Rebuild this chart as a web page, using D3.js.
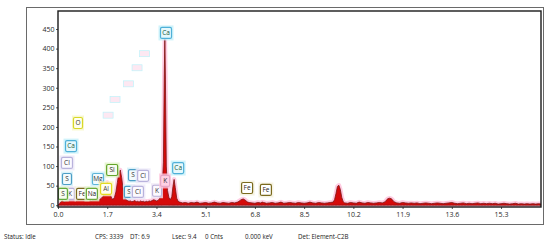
<!DOCTYPE html>
<html>
<head>
  <meta charset="utf-8">
  <style>
    body { margin: 0; background: #fff; }
    text { font-family: "Open Sans", "Liberation Sans", sans-serif; }
  </style>
  <title>EDS spectrum</title>
</head>
<body>
<script src="https://cdn.jsdelivr.net/npm/d3@7"></script>
<script>
// spectrum as [keV, counts]
var spectrum = [
  [0.00,0],[0.05,4],[0.10,9],[0.15,12],[0.20,8],[0.25,10],[0.30,14],[0.35,11],[0.40,13],[0.45,16],
  [0.50,19],[0.55,17],[0.60,13],[0.65,11],[0.70,14],[0.75,12],[0.80,15],[0.85,13],[0.90,11],[0.95,14],
  [1.00,12],[1.05,15],[1.10,13],[1.15,11],[1.20,14],[1.25,12],[1.30,16],[1.35,14],[1.40,12],[1.45,15],
  [1.50,18],[1.55,22],[1.60,30],[1.65,44],[1.70,58],[1.75,50],[1.80,30],[1.85,18],[1.90,15],[1.95,20],
  [2.00,34],[2.05,58],[2.10,82],[2.15,90],[2.20,70],[2.25,40],[2.30,22],[2.35,14],[2.40,12],[2.45,10],
  [2.50,11],[2.55,9],[2.60,10],[2.65,12],[2.70,9],[2.75,10],[2.80,8],[2.85,11],[2.90,9],[2.95,10],
  [3.00,8],[3.05,10],[3.10,9],[3.15,11],[3.20,10],[3.25,12],[3.30,14],[3.35,13],[3.40,11],[3.45,12],
  [3.50,16],[3.55,24],[3.60,45],[3.64,110],[3.67,330],[3.69,425],[3.71,320],[3.74,100],[3.78,38],[3.83,20],
  [3.88,14],[3.93,22],[3.97,48],[4.01,66],[4.05,45],[4.10,18],[4.15,10],[4.2,8],[4.3,6],[4.4,7],
  [4.5,5],[4.6,7],[4.7,6],[4.8,8],[4.9,5],[5.0,6],[5.1,7],[5.2,5],[5.3,6],[5.4,8],
  [5.5,6],[5.6,5],[5.7,7],[5.8,6],[5.9,5],[6.0,7],[6.1,6],[6.2,8],[6.25,10],[6.3,13],
  [6.35,15],[6.4,16],[6.45,14],[6.5,11],[6.55,8],[6.6,7],[6.7,6],[6.8,5],[6.9,7],[7.0,6],
  [7.05,8],[7.1,7],[7.2,5],[7.3,6],[7.4,7],[7.5,5],[7.6,6],[7.7,8],[7.8,5],[7.9,6],
  [8.0,7],[8.1,6],[8.2,5],[8.3,7],[8.4,6],[8.5,5],[8.6,6],[8.7,8],[8.8,6],[8.9,5],
  [9.0,7],[9.1,6],[9.2,5],[9.3,6],[9.4,7],[9.5,8],[9.55,14],[9.6,30],[9.65,48],[9.7,51],
  [9.75,40],[9.8,20],[9.85,9],[9.9,6],[10.0,5],[10.1,7],[10.2,6],[10.3,5],[10.4,8],[10.5,6],
  [10.6,5],[10.7,7],[10.8,6],[10.9,5],[11.0,6],[11.1,7],[11.2,6],[11.3,9],[11.35,14],[11.4,17],
  [11.45,18],[11.5,17],[11.55,14],[11.6,9],[11.7,6],[11.8,5],[11.9,7],[12.0,6],[12.1,5],[12.2,6],
  [12.3,5],[12.4,6],[12.5,4],[12.6,5],[12.7,6],[12.8,5],[12.9,4],[13.0,5],[13.1,6],[13.2,5],
  [13.3,4],[13.4,5],[13.5,6],[13.6,7],[13.7,5],[13.8,4],[13.9,5],[14.0,6],[14.1,4],[14.2,5],
  [14.3,4],[14.4,5],[14.5,6],[14.6,4],[14.7,5],[14.8,4],[14.9,5],[15.0,4],[15.1,5],[15.2,3],
  [15.3,4],[15.4,5],[15.5,4],[15.6,3],[15.7,4],[15.8,5],[15.9,3],[16.0,4],[16.1,3],[16.2,4],
  [16.3,3],[16.4,4],[16.5,3],[16.6,4],[16.68,3]
];

var xTicks = [0.0, 1.7, 3.4, 5.1, 6.8, 8.5, 10.2, 11.9, 13.6, 15.3];
var yTicks = [0, 50, 100, 150, 200, 250, 300, 350, 400, 450];

// element markers: [label, keV, counts, style]
var markers = [
  ["O", 0.69, 210, "O"], ["Ca", 0.45, 151, "Ca"], ["Cl", 0.31, 108, "Cl"], ["S", 0.31, 67, "S"],
  ["K", 0.41, 29, "K"], ["S", 0.17, 29, "Sg"], ["Fe", 0.83, 29, "Fe"], ["Na", 1.17, 29, "Na"],
  ["Mg", 1.38, 67, "Mg"], ["Al", 1.66, 42, "Al"], ["Si", 1.87, 90, "Si"],
  ["S", 2.59, 77, "S"], ["Cl", 2.94, 75, "Cl"], ["S", 2.45, 34, "S"], ["Cl", 2.76, 34, "Cl"],
  ["K", 3.42, 37, "K"], ["K", 3.70, 62, "Kp"], ["Ca", 4.15, 95, "Ca"], ["Ca", 3.73, 440, "Ca"],
  ["Fe", 6.53, 44, "Fe"], ["Fe", 7.18, 39, "Fe"]
];

// faded leftover marker boxes: [keV, counts]
var ghosts = [[2.99, 387], [2.73, 351], [2.43, 310], [1.97, 270], [1.73, 230]];

var statusItems = ["Status: Idle", "CPS: 3339", "DT: 6.9", "Lsec: 9.4", "0 Cnts", "0.000 keV", "Det: Element-C2B"];
var statusX = [4, 95, 130, 172, 205, 245, 298];

var styles = {
  O:  {border: "#d8d828", glow: "#f6f6c4", fill: "#fffff0", text: "#333"},
  Ca: {border: "#4fb0d8", glow: "#c4f0fa", fill: "#e6f8fc", text: "#1c5a40"},
  S:  {border: "#4c9ec6", glow: "#d2eff8", fill: "#f2fbfd", text: "#333"},
  Sg: {border: "#62aa3c", glow: "#dff3c8", fill: "#f6fcef", text: "#333"},
  Cl: {border: "#b9b2dc", glow: "#ebe7f8", fill: "#fbfaff", text: "#333"},
  K:  {border: "#bcb0d8", glow: "#eee6f5", fill: "#fcfaff", text: "#333"},
  Kp: {border: "#e6a8c8", glow: "#ffc4dc", fill: "#ffd0e4", text: "#333"},
  Fe: {border: "#7a6a1e", glow: "#f4f0dc", fill: "#ffffff", text: "#222"},
  Na: {border: "#6aa83a", glow: "#e2f4cc", fill: "#ffffff", text: "#222"},
  Mg: {border: "#5cb4d8", glow: "#cdeff9", fill: "#f2fbfd", text: "#333"},
  Al: {border: "#e2da20", glow: "#faf6bc", fill: "#fffff0", text: "#444"},
  Si: {border: "#62a428", glow: "#e0f4c4", fill: "#f6fcef", text: "#222"}
};

var width = 550, height = 248;
var margin = {top: 11, right: 9, bottom: 41, left: 58};

var svg = d3.select("body").append("svg")
  .attr("width", width)
  .attr("height", height);

// outer window frame
svg.append("rect")
  .attr("x", 26.5).attr("y", 7.5)
  .attr("width", 517).attr("height", 217)
  .attr("fill", "none")
  .attr("stroke", "#6a6a6a")
  .attr("stroke-width", 1);

var x = d3.scaleLinear().domain([0, 16.68]).range([margin.left, width - margin.right]);
var y = d3.scaleLinear().domain([-4.5, 496]).range([height - margin.bottom, margin.top]);

svg.append("clipPath").attr("id", "plotclip")
  .append("rect")
  .attr("x", margin.left).attr("y", margin.top)
  .attr("width", width - margin.left - margin.right)
  .attr("height", height - margin.top - margin.bottom);

var plot = svg.append("g").attr("clip-path", "url(#plotclip)");

var area = d3.area()
  .x(function(d) { return x(d[0]); })
  .y0(y(0))
  .y1(function(d) { return y(d[1]); });

// pink halo behind the spectrum
plot.append("path")
  .datum(spectrum)
  .attr("d", area)
  .attr("fill", "#ffc6de")
  .attr("stroke", "#ffcce2")
  .attr("stroke-width", 4.5)
  .attr("stroke-linejoin", "round");

plot.append("path")
  .datum(spectrum)
  .attr("d", area)
  .attr("fill", "#d50a0a")
  .attr("stroke", "#7c1414")
  .attr("stroke-width", 0.8);

// faded boxes
plot.selectAll(".ghost")
  .data(ghosts)
  .enter().append("rect")
  .attr("class", "ghost")
  .attr("x", function(d) { return x(d[0]) - 5; })
  .attr("y", function(d) { return y(d[1]) - 3; })
  .attr("width", 10).attr("height", 6)
  .attr("fill", "#fde8f2")
  .attr("stroke", "#bff2fa")
  .attr("stroke-width", 0.7);

// element markers
var mk = plot.selectAll(".marker")
  .data(markers)
  .enter().append("g")
  .attr("class", "marker")
  .attr("transform", function(d) { return "translate(" + x(d[1]) + "," + y(d[2]) + ")"; });

mk.append("rect")
  .attr("x", function(d) { return -(d[0].length > 1 ? 7.5 : 6); })
  .attr("y", -7.5)
  .attr("width", function(d) { return d[0].length > 1 ? 15 : 12; })
  .attr("height", 15)
  .attr("fill", function(d) { return styles[d[3]].glow; })
  .attr("opacity", 0.8);

mk.append("rect")
  .attr("x", function(d) { return -(d[0].length > 1 ? 5.5 : 4.5); })
  .attr("y", -5.5)
  .attr("width", function(d) { return d[0].length > 1 ? 11 : 9; })
  .attr("height", 11)
  .attr("rx", 1.5)
  .attr("fill", function(d) { return styles[d[3]].fill; })
  .attr("stroke", function(d) { return styles[d[3]].border; })
  .attr("stroke-width", 1.2);

mk.append("text")
  .attr("text-anchor", "middle")
  .attr("y", 2.3)
  .attr("font-size", 6.5)
  .attr("fill", function(d) { return styles[d[3]].text; })
  .text(function(d) { return d[0]; });

// axes
var xAxis = d3.axisBottom(x).tickValues(xTicks).tickSize(2).tickPadding(3)
  .tickFormat(d3.format(".1f"));
var yAxis = d3.axisLeft(y).tickValues(yTicks).tickSize(2).tickPadding(1.5);

var gx = svg.append("g")
  .attr("transform", "translate(0," + (height - margin.bottom) + ")")
  .call(xAxis);
var gy = svg.append("g")
  .attr("transform", "translate(" + margin.left + ",0)")
  .call(yAxis);

[gx, gy].forEach(function(g) {
  g.select(".domain").remove();
  g.selectAll("line").attr("stroke", "#555");
  g.selectAll("text")
    .attr("font-size", 7)
    .attr("fill", "#2a2a2a")
    .style("font-family", "'Open Sans', sans-serif");
});

// plot border
svg.append("rect")
  .attr("x", margin.left).attr("y", margin.top)
  .attr("width", width - margin.left - margin.right)
  .attr("height", height - margin.top - margin.bottom)
  .attr("fill", "none")
  .attr("stroke", "#1a1a1a")
  .attr("stroke-width", 1.4);

// status bar
svg.selectAll(".status")
  .data(statusItems)
  .enter().append("text")
  .attr("class", "status")
  .attr("x", function(d, i) { return statusX[i]; })
  .attr("y", 239)
  .attr("font-size", 6.2)
  .attr("fill", "#222")
  .text(function(d) { return d; });
</script>
</body>
</html>
